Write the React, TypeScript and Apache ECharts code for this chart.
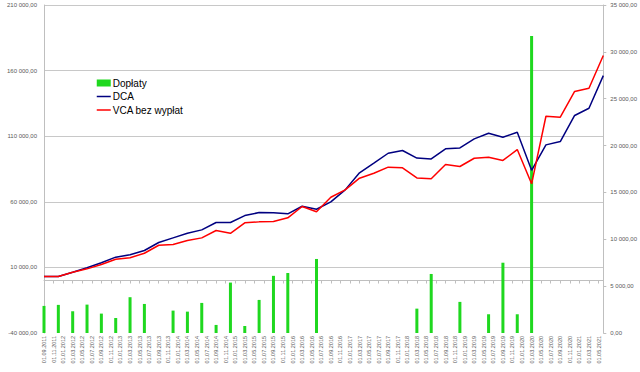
import React, { useEffect, useRef } from "react";
import * as echarts from "echarts";

// Quarterly data points, starting 01.09.2011 (every 3 months)
const firstMonth = { year: 2011, month: 9 };
const monthCount = 118; // 01.09.2011 .. 01.06.2021, monthly category slots

const dca = [3050, 3050, 6300, 9700, 13500, 17800, 19600, 22900, 29000, 32500,
  36000, 38600, 44200, 44200, 49500, 51800, 51600, 50800, 56600, 54300,
  60000, 69100, 82100, 89400, 97000, 99100, 93300, 92700, 100400, 101100,
  108000, 112300, 109200, 113000, 84000, 103400, 105900, 125800, 131300, 156200];

const vca = [3050, 3050, 6300, 8900, 12200, 16200, 17300, 20800, 26900, 27400,
  30500, 32500, 38100, 36000, 44000, 44700, 45000, 47800, 56400, 52400,
  63500, 69100, 78000, 81800, 86400, 85900, 78200, 77600, 88400, 86900,
  93200, 94000, 91500, 99800, 73700, 125200, 124500, 144100, 146600, 171500];

const doplaty = [2890, 3000, 2320, 3030, 2070, 1600, 3820, 3100, 0, 2390,
  2280, 3210, 860, 5380, 750, 3530, 6100, 6400, 0, 7900,
  0, 0, 0, 0, 0, 0, 2600, 6300, 0, 3320,
  0, 2000, 7500, 2000, 31700, 0, 0, 0, 0, 0];

const seriesNames = ["Dopłaty", "DCA", "VCA bez wypłat"];
const colors = ["#1fd81f", "#000080", "#ff0000"];

function buildMonths(): string[] {
  const out: string[] = [];
  let y = firstMonth.year;
  let m = firstMonth.month;
  for (let i = 0; i < monthCount; i++) {
    out.push("01." + String(m).padStart(2, "0") + "." + y);
    m++;
    if (m > 12) { m = 1; y++; }
  }
  return out;
}
const months = buildMonths();

function toMonthly(q: number[]): (number | null)[] {
  const out: (number | null)[] = new Array(monthCount).fill(null);
  q.forEach((v, i) => { out[i * 3] = v; });
  return out;
}

function pl(v: number): string {
  const neg = v < 0;
  const parts = Math.abs(v).toFixed(2).split(".");
  const int = parts[0].replace(/\B(?=(\d{3})+(?!\d))/g, " ");
  return (neg ? "-" : "") + int + "," + parts[1];
}

const FONT = "'Liberation Sans', Arial, sans-serif";

export default function App() {
  const ref = useRef<HTMLDivElement>(null);
  useEffect(() => {
    if (!ref.current) return;
    const chart = echarts.init(ref.current, undefined, { renderer: "svg" });
    const gridColor = "#c8c8c8";
    chart.setOption({
      animation: false,
      backgroundColor: "#ffffff",
      textStyle: { fontFamily: FONT },
      grid: { left: 44, right: 35, top: 5, bottom: 39 },
      legend: {
        orient: "vertical",
        left: 91,
        top: 73,
        itemWidth: 14,
        itemHeight: 7,
        itemGap: 3.5,
        textStyle: { fontSize: 10, color: "#000000", fontFamily: FONT, padding: [0, 0, 0, -3] },
        data: [
          { name: seriesNames[0], icon: "rect" },
          {
            name: seriesNames[1],
            itemStyle: { color: "rgba(0,0,0,0)", opacity: 0, borderWidth: 0 },
            lineStyle: { color: colors[1], width: 1.5 },
          },
          {
            name: seriesNames[2],
            itemStyle: { color: "rgba(0,0,0,0)", opacity: 0, borderWidth: 0 },
            lineStyle: { color: colors[2], width: 1.5 },
          },
        ],
      },
      xAxis: [
        {
          type: "category",
          data: months,
          boundaryGap: false,
          position: "bottom",
          axisLine: { show: false, onZero: false },
          axisTick: { show: false },
          axisLabel: { interval: 1, rotate: 90, fontSize: 5.5, color: "#595959", margin: 3, fontFamily: FONT },
          splitLine: { show: false },
        },
        {
          type: "category",
          data: months,
          boundaryGap: false,
          position: "bottom",
          axisLine: { show: true, onZero: true, onZeroAxisIndex: 0, lineStyle: { color: "#bfbfbf", width: 1 } },
          axisTick: { show: true, interval: 1, length: 3, lineStyle: { color: "#bfbfbf" } },
          axisLabel: { show: false },
          splitLine: { show: false },
        },
      ],
      yAxis: [
        {
          type: "value",
          min: -40000,
          max: 210000,
          interval: 50000,
          position: "left",
          axisLine: { show: true, lineStyle: { color: "#bfbfbf" } },
          axisTick: { show: false },
          axisLabel: { formatter: (v: number) => pl(v), fontSize: 6, color: "#595959", margin: 7, fontFamily: FONT },
          splitLine: {
            show: true,
            lineStyle: { color: ["rgba(0,0,0,0)", gridColor, gridColor, gridColor, gridColor, gridColor], width: 1 },
          },
        },
        {
          type: "value",
          min: 0,
          max: 35000,
          interval: 5000,
          position: "right",
          axisLine: { show: true, lineStyle: { color: "#bfbfbf" } },
          axisTick: { show: true, length: 3, lineStyle: { color: "#bfbfbf" } },
          axisLabel: { formatter: (v: number) => pl(v), fontSize: 6, color: "#595959", margin: 7, fontFamily: FONT },
          splitLine: { show: false },
        },
      ],
      series: [
        {
          name: seriesNames[0],
          type: "bar",
          xAxisIndex: 0,
          yAxisIndex: 1,
          data: toMonthly(doplaty),
          barWidth: 3,
          barGap: "-100%",
          itemStyle: { color: colors[0] },
        },
        {
          name: seriesNames[1],
          type: "line",
          xAxisIndex: 0,
          yAxisIndex: 0,
          data: toMonthly(dca),
          connectNulls: true,
          symbol: "none",
          lineStyle: { color: colors[1], width: 1.5 },
          itemStyle: { color: colors[1] },
        },
        {
          name: seriesNames[2],
          type: "line",
          xAxisIndex: 0,
          yAxisIndex: 0,
          data: toMonthly(vca),
          connectNulls: true,
          symbol: "none",
          lineStyle: { color: colors[2], width: 1.5 },
          itemStyle: { color: colors[2] },
        },
      ],
    });
    return () => chart.dispose();
  }, []);
  return (
    <div
      ref={ref}
      style={{ position: "fixed", left: 0, top: 0, width: 640, height: 372, background: "#fff" }}
    />
  );
}
